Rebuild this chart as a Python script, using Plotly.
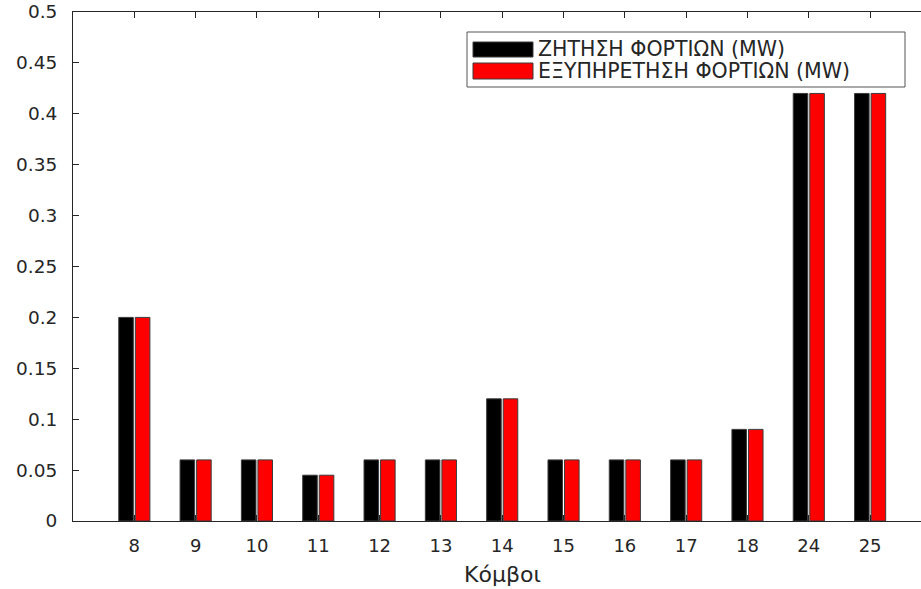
import plotly.graph_objects as go

# Load nodes and values (MW)
nodes = ["8", "9", "10", "11", "12", "13", "14", "15", "16", "17", "18", "24", "25"]
demand = [0.2, 0.06, 0.06, 0.045, 0.06, 0.06, 0.12, 0.06, 0.06, 0.06, 0.09, 0.42, 0.42]
served = [0.2, 0.06, 0.06, 0.045, 0.06, 0.06, 0.12, 0.06, 0.06, 0.06, 0.09, 0.42, 0.42]

series_names = ["ΖΗΤΗΣΗ ΦΟΡΤΙΩΝ (MW)", "ΕΞΥΠΗΡΕΤΗΣΗ ΦΟΡΤΙΩΝ (MW)"]
series_colors = ["#000000", "#ff0000"]
y_ticks = [0, 0.05, 0.1, 0.15, 0.2, 0.25, 0.3, 0.35, 0.4, 0.45, 0.5]
y_tick_text = ["0", "0.05", "0.1", "0.15", "0.2", "0.25", "0.3", "0.35", "0.4", "0.45", "0.5"]

FONT = "DejaVu Sans, Verdana, sans-serif"
AX = "#262626"

W, H = 921, 589
L, T, B = 73, 12, 68
PW, PH = W - L, H - T - B   # plot area in pixels

def pxx(x):
    return (x - L) / PW

def pxy(y):
    return (H - B - y) / PH

fig = go.Figure()
for name, vals, col in zip(series_names, [demand, served], series_colors):
    fig.add_trace(go.Bar(
        x=list(range(len(nodes))), y=vals, name=name,
        marker=dict(color=col, line=dict(color="#3c3c3c", width=1)),
        showlegend=False,
    ))

# Legend box with wide swatches
shapes = [dict(type="rect", xref="paper", yref="paper",
               x0=pxx(467), x1=pxx(905), y0=pxy(87), y1=pxy(32),
               line=dict(color="#555555", width=1), fillcolor="white", layer="above")]
annotations = []
rows = [(42, 57), (63, 79)]
for (ya, yb), name, col in zip(rows, series_names, series_colors):
    shapes.append(dict(type="rect", xref="paper", yref="paper",
                       x0=pxx(473), x1=pxx(533), y0=pxy(yb), y1=pxy(ya),
                       line=dict(color="#3c3c3c", width=1), fillcolor=col, layer="above"))
    annotations.append(dict(xref="paper", yref="paper",
                            x=pxx(536), y=pxy((ya + yb) / 2),
                            text=name, showarrow=False, xanchor="left", yanchor="middle",
                            font=dict(family=FONT, size=20.5, color=AX)))

# x-axis title
annotations.append(dict(xref="paper", yref="paper", x=pxx(502), y=pxy(574),
                        text="Κόμβοι", showarrow=False, xanchor="center", yanchor="middle",
                        font=dict(family=FONT, size=22, color=AX)))

fig.update_layout(
    width=W, height=H,
    margin=dict(l=L, r=0, t=T, b=B),
    paper_bgcolor="white", plot_bgcolor="white",
    barmode="group", bargap=0.46, bargroupgap=0.12,
    font=dict(family=FONT, size=18, color=AX),
    shapes=shapes, annotations=annotations,
    xaxis=dict(
        range=[-1.0, 12.83], tickmode="array",
        tickvals=list(range(len(nodes))), ticktext=nodes,
        showline=True, linecolor=AX, linewidth=1, mirror="ticks",
        ticks="inside", ticklen=6, tickcolor=AX, tickwidth=1,
        showgrid=False, zeroline=False, ticklabelstandoff=8,
        tickfont=dict(family=FONT, size=18, color=AX),
    ),
    yaxis=dict(
        range=[0, 0.5], tickmode="array", tickvals=y_ticks, ticktext=y_tick_text,
        showline=True, linecolor=AX, linewidth=1, mirror=False,
        ticks="inside", ticklen=6, tickcolor=AX, tickwidth=1,
        showgrid=False, zeroline=False, ticklabelstandoff=11,
        tickfont=dict(family=FONT, size=18.5, color=AX),
    ),
)

fig.write_html("out.html")
